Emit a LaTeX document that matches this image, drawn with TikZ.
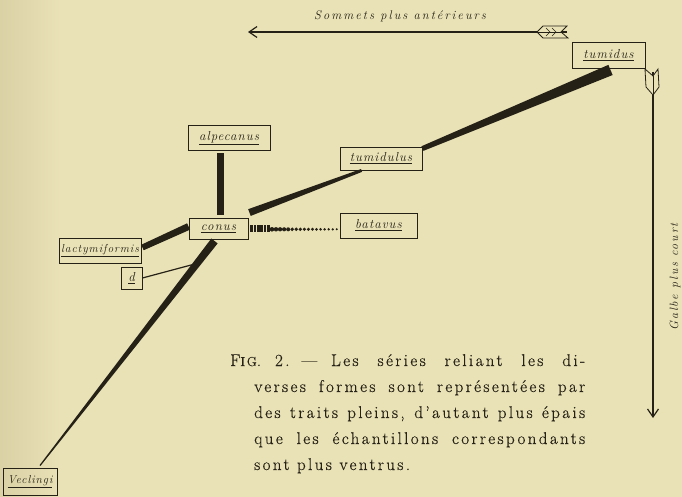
\documentclass[tikz,border=0pt]{standalone}
\usepackage{fontspec}
\setmainfont{Latin Modern Roman}
\newfontfamily\hand{Latin Modern Roman}[LetterSpace=8]
\newfontfamily\handwide{Latin Modern Roman}[LetterSpace=16]
\newfontfamily\capfont{Latin Modern Roman}[LetterSpace=14,FakeBold=0.4]
\usetikzlibrary{calc,arrows.meta}
\definecolor{paper}{RGB}{233,226,182}
\definecolor{paperdark}{RGB}{218,209,165}
\definecolor{ink}{RGB}{38,33,22}
\newcommand\taper[4]{\fill[ink] ($#1!#3!90:#2$) -- ($#2!#4!-90:#1$) -- ($#2!#4!90:#1$) -- ($#1!#3!-90:#2$) -- cycle;}
\tikzset{
  lab/.style={draw=ink, line width=0.9pt, inner sep=1pt, text=ink,
    font=\hand\itshape\fontsize{13}{14}\selectfont},
  captext/.style={anchor=base west, inner sep=0pt, text=ink,
    font=\capfont\fontsize{17}{20}\selectfont},
  note/.style={text=ink, inner sep=0pt, font=\handwide\itshape\fontsize{12.5}{14}\selectfont},
  thinline/.style={draw=ink, line width=1.2pt},
  axis/.style={draw=ink, line width=1.2pt, -{Straight Barb[length=8pt,width=11pt,line width=1.2pt]}},
  fletch/.style={draw=ink, line width=0.8pt, fill=paper}
}
\begin{document}
\begin{tikzpicture}[x=1pt,y=-1pt]
\fill[paper] (0,0) rectangle (682,497);
\shade[left color=paperdark, right color=paper] (0,0) rectangle (60,497);
\useasboundingbox (0,0) rectangle (682,497);

% nodes
\node[lab, minimum width=73pt, minimum height=26pt] (tumidus) at (608.5,55) {\underline{tumidus}};
\node[lab, minimum width=82pt, minimum height=25pt] (alpecanus) at (229,138) {\underline{alpecanus}};
\node[lab, minimum width=82pt, minimum height=23pt] (tumidulus) at (381,158.5) {\underline{tumidulus}};
\node[lab, minimum width=59pt, minimum height=21pt] (conus) at (218.5,228.5) {\underline{conus}};
\node[lab, minimum width=77pt, minimum height=25pt] (batavus) at (378.5,225.5) {\underline{batavus}};
\node[lab, minimum width=82pt, minimum height=25pt, font=\hand\itshape\fontsize{11.5}{12}\selectfont] (lacty) at (100,250.5) {\underline{lactymiformis}};
\node[lab, minimum width=21pt, minimum height=22pt] (d) at (131.5,278) {\underline{d}};
\node[lab, minimum width=54pt, minimum height=27pt, font=\hand\itshape\fontsize{11.5}{12}\selectfont] (veclingi) at (30,481.5) {\underline{Veclingi}};

% series (thick connectors)
\coordinate (a1) at ($(conus.north)+(2,-3)$);
\coordinate (a2) at ($(alpecanus.south)+(-8.5,2)$);
\draw[ink, line width=7pt] (a1) -- (a1 |- a2);

\coordinate (c1) at ($(conus.north east)+(1,-5)$);
\coordinate (c2) at ($(tumidulus.south west)+(22,0)$);
\taper{(c1)}{(c2)}{3.6pt}{1.5pt}

\coordinate (t1) at ($(tumidulus.north east)+(0,2)$);
\coordinate (t2) at ($(tumidus.south)+(2,1.5)$);
\taper{(t1)}{(t2)}{2.5pt}{5.5pt}

\coordinate (l1) at ($(lacty.east)+(1,-3)$);
\coordinate (l2) at ($(conus.west)+(0,-2)$);
\taper{(l1)}{(l2)}{3pt}{3.5pt}

\coordinate (v1) at ($(conus.south)+(-4,1.5)$);
\coordinate (v2) at ($(veclingi.north)+(10,-2)$);
\taper{(v1)}{(v2)}{4pt}{0.6pt}
\coordinate (v3) at ($(v1)!0.1!(v2)$);
\draw[thinline] (d.east) -- (v3);

% dotted series conus -- batavus
\coordinate (b0) at (conus.east);
\coordinate (b1) at (batavus.west);
\foreach \i in {0,...,5} {
  \fill[ink] ($(b0)+(3+3.4*\i-1.3,-3.8+0.15*\i)$) rectangle ($(b0)+(3+3.4*\i+1.3,3.8-0.15*\i)$);
}
\foreach \i in {0,...,16} {
  \fill[ink] ($(b0)+(23.5+4.05*\i,0.8)$) circle ({2.3-0.07*\i});
}

% axes
\coordinate (h0) at (567,32);
\coordinate (h1) at (248,32);
\draw[axis] (h0) -- (h1);
\draw[fletch] (537,32) -- (543,26) -- (567,26) -- (561,32) -- (568,38) -- (543,38) -- cycle;
\draw[ink, line width=0.6pt] (537,32) -- (562,32);
\draw[ink, line width=0.5pt] (546,28) -- (550,32) -- (546,36) (552,28) -- (556,32) -- (552,36);

\coordinate (w0) at (653,72);
\coordinate (w1) at (653,418);
\draw[axis] (w0) -- (w1);
\draw[fletch] (653,95) -- (646,87) -- (645,69) -- (653,76) -- (658,69) -- (659,87) -- cycle;
\draw[ink, line width=0.6pt] (653,76) -- (653,95);

\node[note] (somm) at (400,16) {Sommets plus antérieurs};
\node[note, rotate=90, font=\handwide\itshape\fontsize{12}{13}\selectfont] (galbe) at (675,277) {Galbe plus court};

% caption
\node[captext] (cap1) at (230,366) {\makebox[355pt][s]{F{\fontsize{13}{14}\selectfont IG}.\hspace{14pt}2.\hspace{12pt}—\hspace{14pt}Les séries reliant les di-}};
\node[captext] (cap2) at (254,392) {\makebox[331pt][s]{verses formes sont représentées par}};
\node[captext] (cap3) at (254,418) {\makebox[331pt][s]{des traits pleins, d’autant plus épais}};
\node[captext] (cap4) at (254,444) {\makebox[331pt][s]{que les échantillons correspondants}};
\node[captext] (cap5) at (254,470) {sont plus ventrus.};
\end{tikzpicture}
\end{document}
